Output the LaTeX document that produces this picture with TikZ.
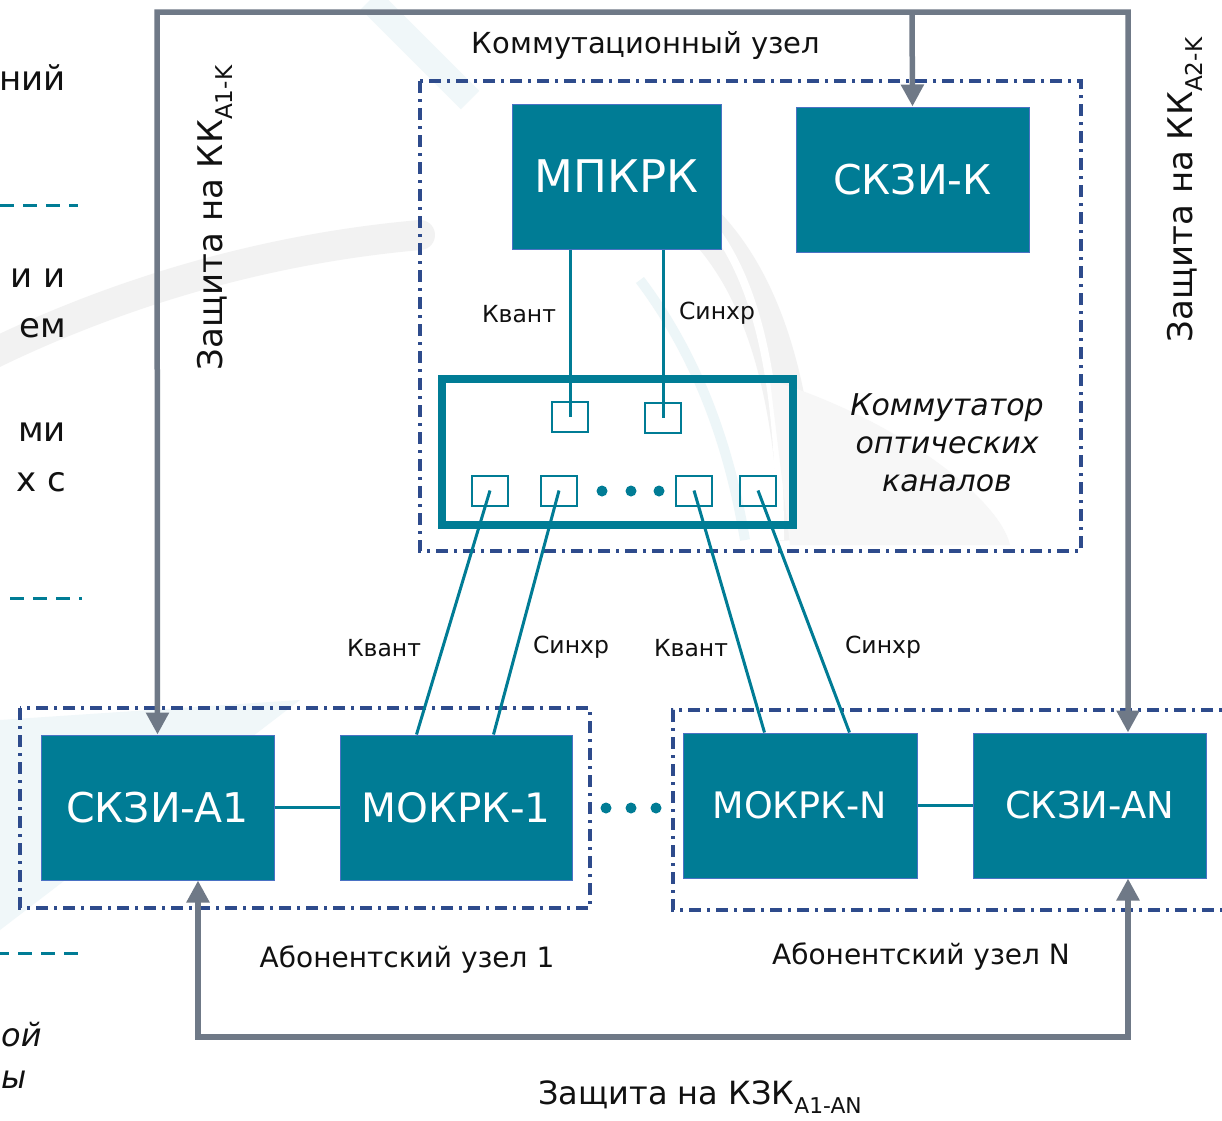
\documentclass[tikz,border=0pt]{standalone}
\usepackage{fontspec}
\setmainfont{DejaVu Sans}
\usetikzlibrary{arrows.meta}
\definecolor{tealc}{HTML}{007C95}
\definecolor{boxb}{HTML}{4A72C4}
\definecolor{frame}{HTML}{2E4B8C}
\definecolor{grl}{HTML}{6F7987}
\definecolor{txt}{HTML}{111111}
\newcommand{\fs}[1]{\fontsize{#1}{#1}\selectfont}
\newcommand{\mysub}[1]{\raisebox{-0.28em}{\fontsize{0.68em}{0.68em}\selectfont #1}}
\tikzset{
  unitbox/.style={fill=tealc, draw=boxb, line width=1pt, text=white, inner sep=0pt,
     minimum width=233pt, minimum height=145pt},
  port/.style={draw=tealc, line width=2pt, minimum width=36pt, minimum height=30pt, inner sep=0pt},
  sw/.style={draw=tealc, line width=8pt, minimum width=351pt, minimum height=146pt, inner sep=0pt},
  link/.style={draw=tealc, line width=3pt},
  frm/.style={draw=frame, line width=3.2pt, dash pattern=on 12pt off 6pt on 3pt off 6pt},
  gline/.style={draw=grl, line width=5.5pt, line join=miter},
  gtip/.style={-{Triangle[width=22pt,length=22pt]}},
  gtip2/.style={{Triangle[width=22pt,length=22pt]}-{Triangle[width=22pt,length=22pt]}},
  lbl/.style={text=txt, inner sep=0pt},
  frag/.style={draw=tealc, line width=3pt, dash pattern=on 14pt off 9pt},
  dotc/.style={fill=tealc, draw=none}
}
\begin{document}
\begin{tikzpicture}[x=1pt,y=-1pt]
\useasboundingbox (0,0) rectangle (1222,1120);
% faint background
\fill[white] (0,0) rectangle (1222,1120);
\fill[tealc!6] (0,720) -- (300,700) -- (0,930) -- cycle;
\draw[black!5, line width=30pt, line cap=round] (-20,360) .. controls (100,300) and (250,250) .. (420,235);
\draw[tealc!6, line width=26pt] (370,0) -- (470,100);
\draw[black!5, line width=40pt] (560,150) .. controls (700,180) and (790,270) .. (800,540);
\draw[white, line width=8pt] (600,150) .. controls (720,190) and (780,280) .. (780,540);
\draw[tealc!7, line width=10pt] (640,280) .. controls (700,360) and (730,450) .. (745,540);
\fill[black!3] (770,380) .. controls (900,420) and (1000,500) .. (1010,545) -- (790,545) -- cycle;

% left fragments
\node[lbl, anchor=east, font=\fs{34}] at (66,78) {ний};
\draw[frag] (0,205) -- (78,205);
\node[lbl, anchor=east, font=\fs{34}] at (66,278) {и и};
\node[lbl, anchor=east, font=\fs{34}] at (66,328) {ем};
\node[lbl, anchor=east, font=\fs{34}] at (66,432) {ми};
\node[lbl, anchor=east, font=\fs{34}] at (66,482) {х с};
\draw[frag] (10,598) -- (82,598);
\draw[frag] (-5,953) -- (86,953);
\node[lbl, anchor=west, font=\fs{32}\itshape] at (1,1035) {ой};
\node[lbl, anchor=west, font=\fs{32}\itshape] at (1,1080) {ы};

% frames
\draw[frm] (420,81) rectangle (1081,551);
\draw[frm] (20,708) rectangle (590,908);
\draw[frm] (1240,710) -- (673,710) -- (673,910) -- (1240,910);

% units
\node[unitbox, minimum width=209pt, font=\fs{45}] (mpkrk) at (616.5,176.5) {МПКРК};
\node[unitbox, font=\fs{41}] (skzik) at (912.5,179.5) {СКЗИ-К};
\node[unitbox, font=\fs{41}] (skzia1) at (157.5,807.5) {СКЗИ-A1};
\node[unitbox, minimum width=232pt, font=\fs{40.5}] (mokrk1) at (456,807.5) {МОКРК-1};
\node[unitbox, minimum width=234pt, font=\fs{36.5}] (mokrkn) at (800,805.5) {МОКРК-N};
\node[unitbox, font=\fs{37}] (skzian) at (1089.5,805.5) {СКЗИ-AN};

% switch
\node[sw] (sw) at (617.5,452) {};
\node[port] (pt1) at (570,416.5) {};
\node[port] (pt2) at (663,417.5) {};
\node[port] (pb1) at (490,490.5) {};
\node[port] (pb2) at (559,490.5) {};
\node[port] (pb3) at (694,490.5) {};
\node[port] (pb4) at (758,490.5) {};
\foreach \x in {602,631,659} \fill[dotc] (\x,491) circle (5.5pt);
\foreach \x in {606,631,656} \fill[dotc] (\x,808) circle (5.5pt);

% teal links
\draw[link] (pt1.center |- mpkrk.south) -- (pt1.center);
\draw[link] (pt2.center |- mpkrk.south) -- (pt2.center);
\draw[link] (pb1.center) -- ([xshift=77pt]mokrk1.north west);
\draw[link] (pb2.center) -- ([xshift=154pt]mokrk1.north west);
\draw[link] (pb3.center) -- ([xshift=82pt]mokrkn.north west);
\draw[link] (pb4.center) -- ([xshift=167pt]mokrkn.north west);
\draw[link] (skzia1.east) -- (mokrk1.west);
\draw[link] (mokrkn.east) -- (skzian.west);

% gray protection lines
\coordinate (tl) at (157,12);
\coordinate (tr) at (1128,12);
\coordinate (tk) at (912,12);
\coordinate (bl) at (198,1037);
\coordinate (br) at (1128,1037);
\draw[gline, gtip2] (skzia1.north) -- (tl) -- (tr) -- (tr |- skzian.north);
\draw[gline, gtip] (tk) -- (skzik.north);
\draw[gline, gtip2] (bl |- skzia1.south) -- (bl) -- (br) -- (br |- skzian.south);

% labels
\node[lbl, font=\fs{29}] at (646,45) {Коммутационный узел};
\node[lbl, font=\fs{23.5}] at (519,314) {Квант};
\node[lbl, font=\fs{23.5}] at (717,313) {Синхр};
\node[lbl, font=\fs{23.5}] at (384,648) {Квант};
\node[lbl, font=\fs{23.5}] at (571,647) {Синхр};
\node[lbl, font=\fs{23.5}] at (691,648) {Квант};
\node[lbl, font=\fs{23.5}] at (883,647) {Синхр};
\node[lbl, font=\fs{30}\itshape, align=center] at (947,443) {Коммутатор\\[8pt]оптических\\[8pt]каналов};
\node[lbl, font=\fs{28}] at (407,960) {Абонентский узел 1};
\node[lbl, font=\fs{28}] at (921,957) {Абонентский узел N};
\node[lbl, font=\fs{34}, rotate=90] at (215,218) {Защита на КК\mysub{A1-K}};
\node[lbl, font=\fs{34}, rotate=90] at (1185,190) {Защита на КК\mysub{A2-K}};
\node[lbl, font=\fs{32}] at (700,1097) {Защита на КЗК\mysub{A1-AN}};
\end{tikzpicture}
\end{document}
